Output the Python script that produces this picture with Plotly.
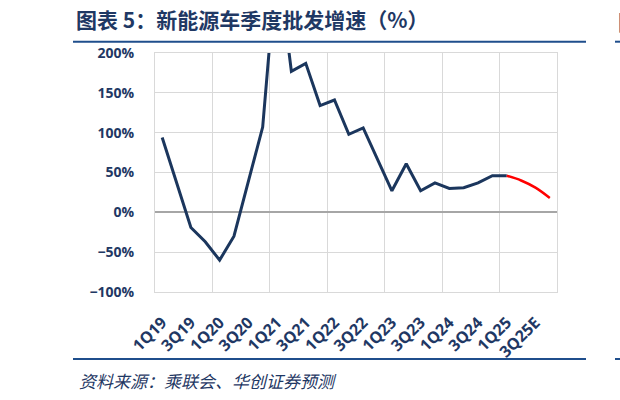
import plotly.graph_objects as go

# quarters, 1Q19 .. 4Q25E
quarters = ['1Q19', '2Q19', '3Q19', '4Q19',
            '1Q20', '2Q20', '3Q20', '4Q20',
            '1Q21', '2Q21', '3Q21', '4Q21',
            '1Q22', '2Q22', '3Q22', '4Q22',
            '1Q23', '2Q23', '3Q23', '4Q23',
            '1Q24', '2Q24', '3Q24', '4Q24',
            '1Q25', '2Q25E', '3Q25E', '4Q25E']

# actual wholesale growth, %  (1Q19 .. 1Q25)
actual = [94, 38, -19, -37,
          -60, -30, 38, 107,
          320, 177, 187, 134,
          141, 98, 106, 66,
          27, 61, 27, 37,
          30, 31, 37, 46,
          46]

# forecast, %  (1Q25 .. 4Q25E)
forecast = [46, 40, 31, 18]

NAVY = '#1F3864'
LINE_NAVY = '#1B365D'
GRID = '#D9D9D9'

x_all = list(range(len(quarters)))
x_actual = x_all[:len(actual)]
x_fore = x_all[len(actual) - 1:len(actual) - 1 + len(forecast)]

fig = go.Figure()
fig.add_trace(go.Scatter(x=x_actual, y=actual, mode='lines',
                         line=dict(color=LINE_NAVY, width=3), showlegend=False))
fig.add_trace(go.Scatter(x=x_fore, y=forecast, mode='lines',
                         line=dict(color='#FF0000', width=2.5, shape='spline'),
                         showlegend=False))

fig.update_layout(
    width=620, height=400,
    margin=dict(l=155, r=63, t=53, b=108),
    paper_bgcolor='white', plot_bgcolor='white',
    title=dict(text='图表 5：新能源车季度批发增速（%）', xref='container', yref='container',
               x=76 / 620, y=1 - 21 / 400, xanchor='left', yanchor='middle',
               font=dict(family='Noto Sans CJK SC', size=21, color=NAVY, weight='bold')),
    xaxis=dict(range=[-0.5, len(quarters) - 0.5], tickmode='array',
               tickvals=x_all[::2], ticktext=quarters[::2], tickangle=-45,
               tickfont=dict(family='Open Sans', size=16, color=NAVY, weight='bold'),
               showgrid=False, zeroline=False,
               showline=True, mirror=True, linecolor=GRID, linewidth=1,
               ticks='', ticklen=0, ticklabelstandoff=14,
               minor=dict(tick0=-0.5, dtick=4, showgrid=True, gridcolor=GRID, gridwidth=1)),
    yaxis=dict(range=[-100, 200], dtick=50, ticksuffix='%',
               tickfont=dict(family='Open Sans', size=14, color=NAVY, weight='bold'),
               showgrid=True, gridcolor=GRID, gridwidth=1,
               zeroline=True, zerolinecolor='#A6A6A6', zerolinewidth=1.5,
               showline=True, mirror=True, linecolor=GRID, linewidth=1,
               ticks='', ticklabelstandoff=17),
)

# header / footer rules
rules = [(-82 / 402, 431 / 402, 250.3 / 239), (-82 / 402, 431 / 402, -67 / 239),
         (460 / 402, 470 / 402, 250.3 / 239), (460 / 402, 470 / 402, -67 / 239)]
for x0, x1, y in rules:
    fig.add_shape(type='line', xref='paper', yref='paper', x0=x0, x1=x1, y0=y, y1=y,
                  line=dict(color='#1F4E8C', width=2))

fig.add_annotation(text='资料来源：乘联会、华创证券预测', xref='paper', yref='paper',
                   x=-78 / 402, y=-88 / 239, xanchor='left', yanchor='middle', showarrow=False,
                   font=dict(family='Noto Sans CJK SC', size=17, color=NAVY, style='italic'))
fig.add_annotation(text='图表 6', xref='paper', yref='paper',
                   x=461 / 402, y=271 / 239, xanchor='left', yanchor='middle', showarrow=False,
                   font=dict(family='Noto Sans CJK SC', size=21, color=NAVY, weight='bold'))

fig.write_html('out.html', config={'displayModeBar': False},
               post_script="document.body.style.margin='0';")
